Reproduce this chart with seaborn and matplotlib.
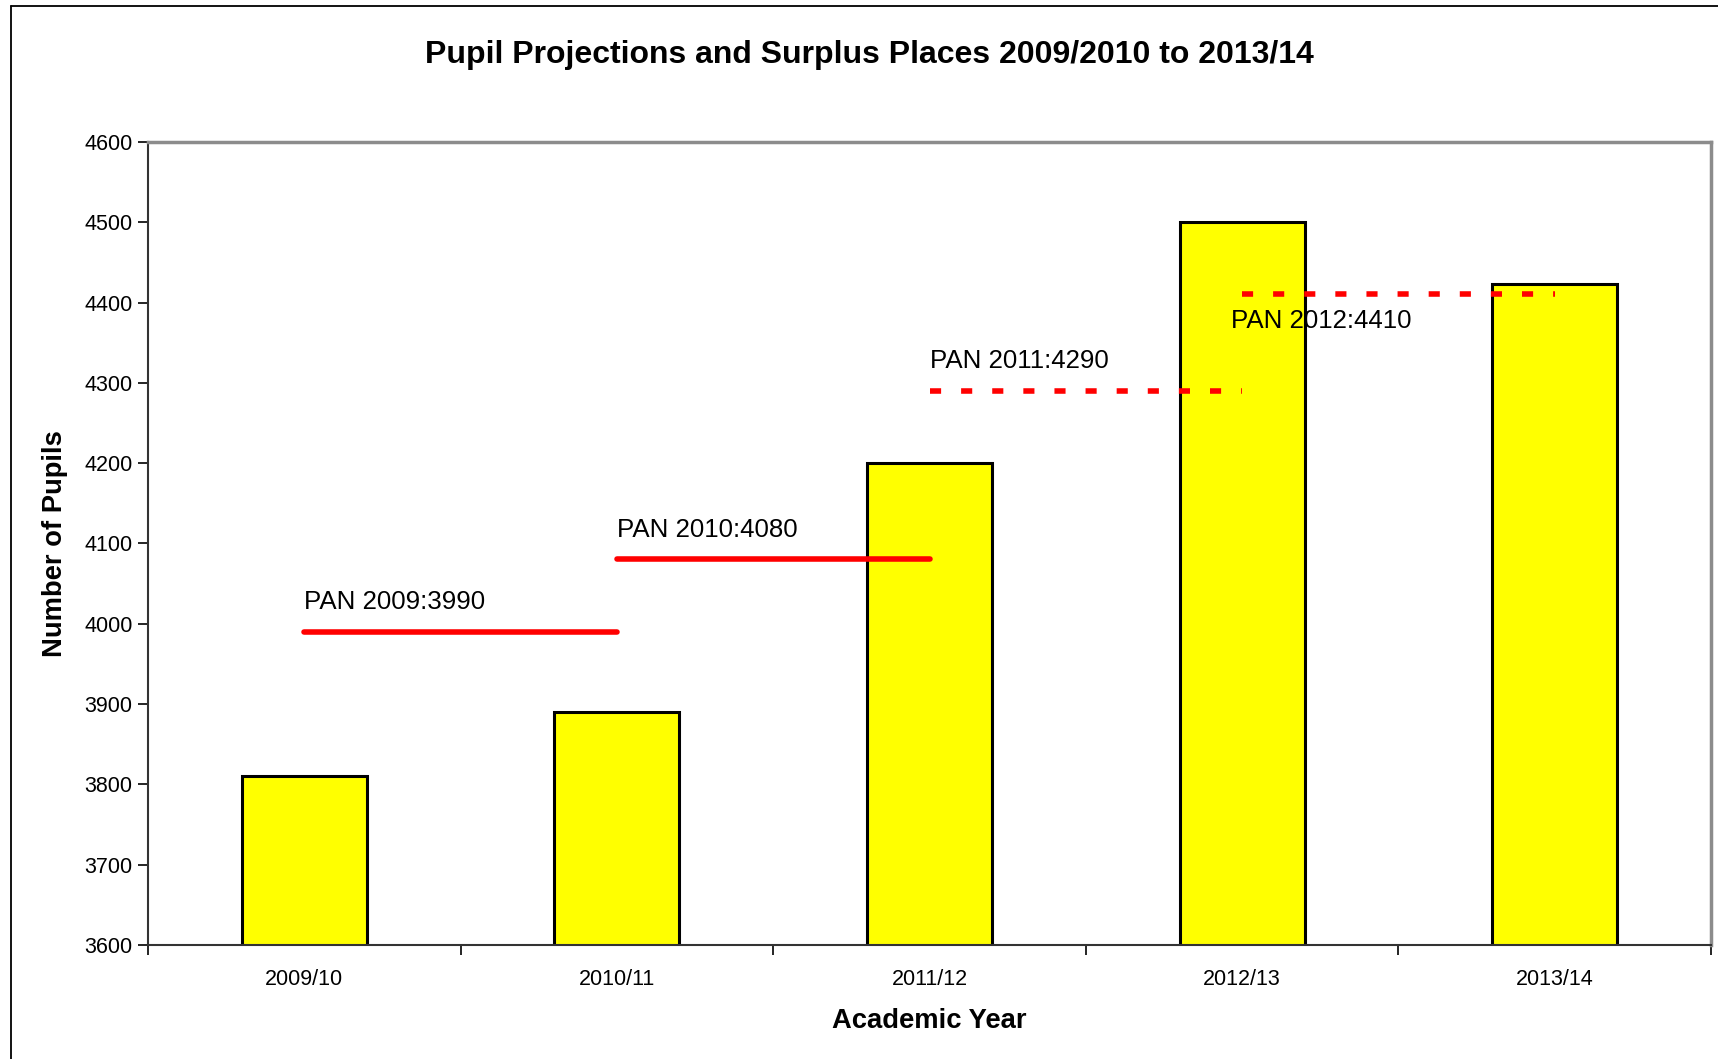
import matplotlib
matplotlib.use("Agg")
import matplotlib.pyplot as plt
from matplotlib.lines import Line2D
import seaborn as sns
import pandas as pd

# chart data
years = ["2009/10", "2010/11", "2011/12", "2012/13", "2013/14"]
pupils = [3810, 3890, 4200, 4500, 4423]

# PAN lines: label, value, start category, end category, style
pan_labels = ["PAN 2009:3990", "PAN 2010:4080", "PAN 2011:4290", "PAN 2012:4410"]
pan_values = [3990, 4080, 4290, 4410]
pan_start = ["2009/10", "2010/11", "2011/12", "2012/13"]
pan_end = ["2010/11", "2011/12", "2012/13", "2013/14"]
pan_dotted = [False, False, True, True]

sns.set_style("white")
plt.rcParams["font.family"] = ["Liberation Sans", "DejaVu Sans"]
plt.rcParams["text.color"] = "black"
plt.rcParams["axes.labelcolor"] = "black"
plt.rcParams["xtick.color"] = "black"
plt.rcParams["ytick.color"] = "black"

fig = plt.figure(figsize=(17.18, 10.59), dpi=100)
ax = fig.add_axes([0.0861, 0.1077, 0.9099, 0.7583])

df = pd.DataFrame({"Academic Year": years, "Pupils": pupils})
sns.barplot(data=df, x="Academic Year", y="Pupils", color="#FFFF00",
            edgecolor="black", linewidth=2.2, width=0.4, saturation=1, ax=ax)

pos = {y: i for i, y in enumerate(years)}
for lab, val, s, e, dotted in zip(pan_labels, pan_values, pan_start, pan_end, pan_dotted):
    x0, x1 = pos[s], pos[e]
    if dotted:
        ax.plot([x0, x1], [val, val], color="#FF0000", lw=4, linestyle=(0, (2.0, 3.6)),
                solid_capstyle="butt", dash_capstyle="butt", zorder=5)
    else:
        ax.plot([x0, x1], [val, val], color="#FF0000", lw=4, solid_capstyle="round", zorder=5)
    if val == 4410:
        ax.text(x0 - 0.035, val - 18, lab, fontsize=18.6, ha="left", va="top", zorder=6)
    else:
        ax.text(x0, val + 22, lab, fontsize=18.6, ha="left", va="bottom", zorder=6)

ax.set_ylim(3600, 4600)
ax.set_xlim(-0.5, len(years) - 0.5)
ax.set_yticks(range(3600, 4601, 100))
ax.tick_params(axis="y", labelsize=15.5, length=7, width=1.2, direction="out", left=True, pad=4)
ax.tick_params(axis="x", labelsize=15.5, length=0, pad=17)
# category boundary ticks on x axis
ax.set_xticks([i - 0.5 for i in range(len(years) + 1)], minor=True)
ax.tick_params(axis="x", which="minor", length=7, width=1.2, direction="out", bottom=True)

for side in ["left", "bottom"]:
    ax.spines[side].set_color("#333333")
    ax.spines[side].set_linewidth(1.5)
for side in ["top", "right"]:
    ax.spines[side].set_color("#8C8C8C")
    ax.spines[side].set_linewidth(2.5)

ax.set_xlabel("Academic Year", fontsize=19.7, fontweight="bold", labelpad=13)
ax.set_ylabel("Number of Pupils", fontsize=19.7, fontweight="bold", labelpad=12)
fig.suptitle("Pupil Projections and Surplus Places 2009/2010 to 2013/14",
             fontsize=23, fontweight="bold", x=0.506, y=0.962)

# outer chart border (left and top visible)
fig.add_artist(Line2D([0.0064, 0.0064], [0.0, 0.9943], transform=fig.transFigure,
                      color="black", lw=1.3))
fig.add_artist(Line2D([0.0064, 1.0], [0.9943, 0.9943], transform=fig.transFigure,
                      color="black", lw=1.3))

fig.savefig("out.png", dpi=100)
